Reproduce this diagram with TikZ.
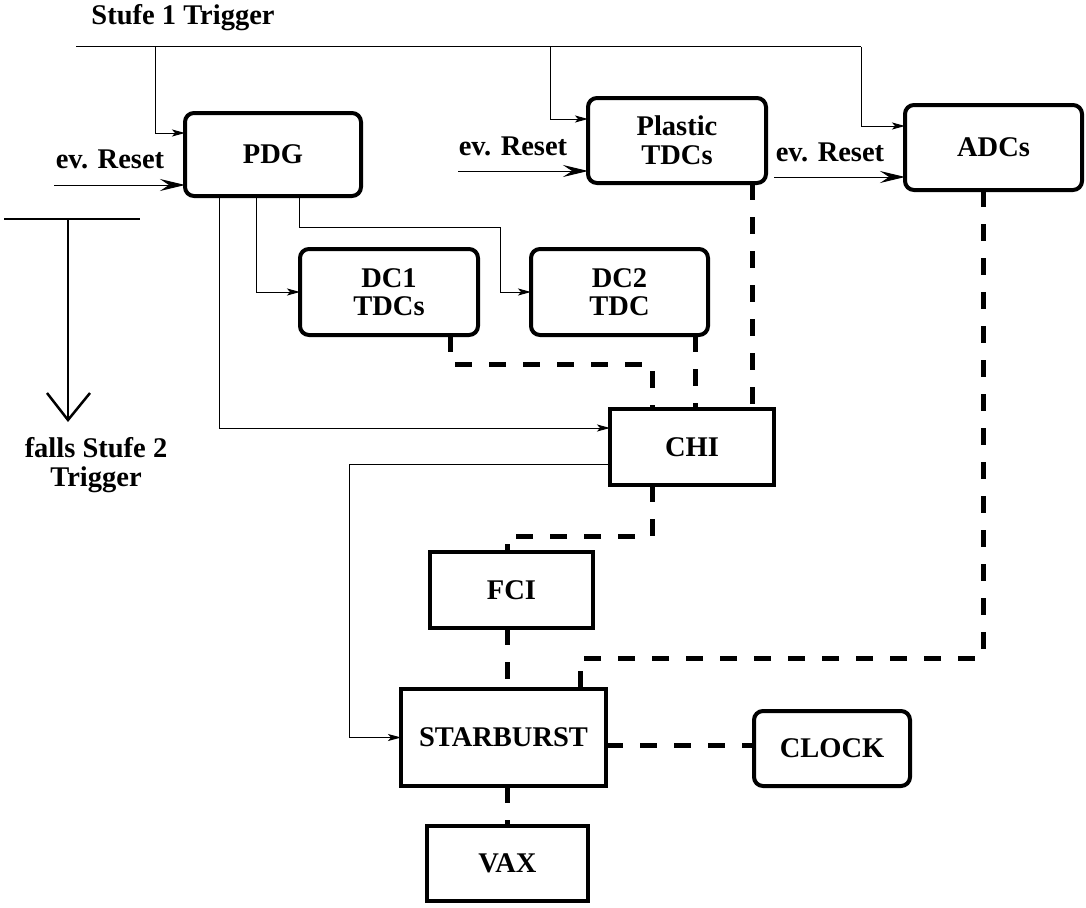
\documentclass[tikz,border=0pt]{standalone}
\usepackage{fontspec}
\setmainfont{Liberation Serif}
\usetikzlibrary{arrows.meta}
\newcommand\figfont{\fontsize{28.5}{28.5}\selectfont\bfseries}
\tikzset{
  rbox/.style={draw, line width=4pt, rounded corners=9pt, align=center, inner sep=0pt, outer sep=0pt, font=\figfont},
  sbox/.style={draw, line width=4pt, align=center, inner sep=0pt, outer sep=0pt, font=\figfont},
  lbl/.style={inner sep=0pt, font=\figfont},
  wire/.style={line width=1pt},
  warrow/.style={wire, -{Stealth[length=13pt,width=7pt,inset=3pt]}},
  rarrow/.style={wire, -{Stealth[length=25pt,width=12pt,inset=9pt]}},
  bus/.style={line width=5pt, dash pattern=on 17pt off 17pt},
  tline/.style={line width=2.5pt},
}
\begin{document}
\begin{tikzpicture}[x=1pt,y=-1pt]
\useasboundingbox (0,0) rectangle (1086,907);

% boxes
\node[rbox, minimum width=176pt, minimum height=83pt] (PDG) at (273,154.5) {PDG};
\node[rbox, minimum width=178pt, minimum height=85pt] (PL) at (677,140.5) {Plastic\\TDCs};
\node[rbox, minimum width=177pt, minimum height=85pt] (ADC) at (993.5,147.5) {ADCs};
\node[rbox, minimum width=178pt, minimum height=86pt] (DC1) at (389,292) {DC1\\TDCs};
\node[rbox, minimum width=177pt, minimum height=86pt] (DC2) at (619.5,292) {DC2\\TDC};
\node[sbox, minimum width=164pt, minimum height=76pt] (CHI) at (692,447) {CHI};
\node[sbox, minimum width=163pt, minimum height=76pt] (FCI) at (511.5,590) {FCI};
\node[sbox, minimum width=205pt, minimum height=97pt] (STAR) at (503.5,737.5) {STARBURST};
\node[rbox, minimum width=156pt, minimum height=75pt] (CLK) at (832,748.5) {CLOCK};
\node[sbox, minimum width=161pt, minimum height=75pt] (VAX) at (507.5,863.5) {VAX};

% labels
\node[lbl, anchor=base] (st1) at (183,25) {Stufe 1 Trigger};
\node[lbl, anchor=base] (ev1) at (110,168) {ev. Reset};
\node[lbl, anchor=base] (ev2) at (513,155) {ev. Reset};
\node[lbl, anchor=base] (ev3) at (830,161) {ev. Reset};
\node[lbl, align=center] (fs2) at (96,465) {falls Stufe 2\\Trigger};

% helper coordinates
\coordinate (b0) at (76,47);
\coordinate (b1) at (155,47);
\coordinate (b2) at (550,47);
\coordinate (b3) at (861,47);
\coordinate (y133) at (0,133);
\coordinate (y119) at (0,119);
\coordinate (y126) at (0,126);
\coordinate (r1) at (54,185);
\coordinate (r2) at (458,171);
\coordinate (r3) at (774,177);
\coordinate (p1) at (219,0);
\coordinate (p2) at (256,0);
\coordinate (p3) at (299,0);
\coordinate (k1) at (500,227);
\coordinate (y428) at (0,428);
\coordinate (y464) at (0,464);
\coordinate (k2) at (349,464);
\coordinate (cA) at (507,0);
\coordinate (cB) at (652,0);
\coordinate (cC) at (695,0);
\coordinate (cD) at (752,0);
\coordinate (cE) at (983,0);
\coordinate (cF) at (450,0);
\coordinate (cG) at (580,0);
\coordinate (y364) at (0,364);
\coordinate (y536) at (0,536);
\coordinate (y658) at (0,658);
\coordinate (y745) at (0,745);

% trigger bus
\draw[wire] (b0) -- (b3);
\draw[warrow] (b1) |- (PDG.west |- y133);
\draw[warrow] (b2) |- (PL.west |- y119);
\draw[warrow] (b3) |- (ADC.west |- y126);

% resets
\draw[rarrow] (r1) -- (PDG.west |- r1);
\draw[rarrow] (r2) -- (PL.west |- r2);
\draw[rarrow] (r3) -- (ADC.west |- r3);

% PDG outputs
\draw[warrow] (PDG.south -| p1) |- (CHI.west |- y428);
\draw[warrow] (PDG.south -| p2) |- (DC1.west);
\draw[warrow] (PDG.south -| p3) |- (k1) |- (DC2.west);
\draw[warrow] (CHI.west |- y464) -- (k2) |- (STAR.west);

% dashed data lines
\draw[bus] (DC1.south -| cF) |- (cB |- y364) -- (CHI.north -| cB);
\draw[bus] (DC2.south -| cC) -- (CHI.north -| cC);
\draw[bus] (PL.south -| cD) -- (CHI.north -| cD);
\draw[bus] (CHI.south -| cB) |- (cA |- y536) -- (FCI.north -| cA);
\draw[bus] (FCI.south -| cA) -- (STAR.north -| cA);
\draw[bus] (ADC.south -| cE) |- (cG |- y658) -- (STAR.north -| cG);
\draw[bus] (STAR.east |- y745) -- (CLK.west |- y745);
\draw[bus] (STAR.south -| cA) -- (VAX.north -| cA);

% level-2 trigger symbol
\coordinate (tL) at (4,219);
\coordinate (tR) at (140,219);
\coordinate (tM) at (68,219);
\coordinate (tTip) at (68,420);
\coordinate (vL) at (47,393);
\coordinate (vR) at (90,393);
\draw[tline] (tL) -- (tR);
\draw[tline] (tM) -- (tTip);
\draw[tline] (vL) -- (tTip) -- (vR);
\end{tikzpicture}
\end{document}
